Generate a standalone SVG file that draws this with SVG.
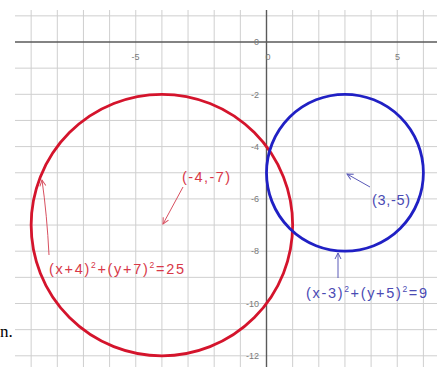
<svg xmlns="http://www.w3.org/2000/svg" width="437" height="367" viewBox="0 0 437 367">
<defs>
<style>
.grid line{stroke:#cfcfcf;stroke-width:1}
.axis{stroke:#5a5a5a;stroke-width:1.4}
.tick{font-family:"Liberation Sans",Arial,sans-serif;font-size:9px;fill:#7a7a7a}
.red{fill:none;stroke:#d4142c;stroke-width:2.8}
.blue{fill:none;stroke:#2020c4;stroke-width:2.8}
.rl{font-family:"Liberation Sans",Arial,sans-serif;font-size:14.5px;fill:#d83848}
.bl{font-family:"Liberation Sans",Arial,sans-serif;font-size:14.5px;fill:#4a4ab4}
.sup{font-size:8.5px}
.ra{stroke:#d85060;stroke-width:1;fill:none}
.ba{stroke:#5a5ab8;stroke-width:1;fill:none}
</style>
<marker id="mr" markerWidth="8" markerHeight="8" refX="7" refY="4" orient="auto" markerUnits="userSpaceOnUse">
<path d="M1,1 L7,4 L1,7" fill="none" stroke="#d85060" stroke-width="1"/>
</marker>
<marker id="mb" markerWidth="8" markerHeight="8" refX="7" refY="4" orient="auto" markerUnits="userSpaceOnUse">
<path d="M1,1 L7,4 L1,7" fill="none" stroke="#5a5ab8" stroke-width="1"/>
</marker>
</defs>
<rect width="437" height="367" fill="#ffffff"/>
<g id="grid" class="grid">
<line x1="31.15" y1="10" x2="31.15" y2="367"/>
<line x1="57.3" y1="10" x2="57.3" y2="367"/>
<line x1="83.45" y1="10" x2="83.45" y2="367"/>
<line x1="109.6" y1="10" x2="109.6" y2="367"/>
<line x1="135.75" y1="10" x2="135.75" y2="367"/>
<line x1="161.9" y1="10" x2="161.9" y2="367"/>
<line x1="188.05" y1="10" x2="188.05" y2="367"/>
<line x1="214.2" y1="10" x2="214.2" y2="367"/>
<line x1="240.35" y1="10" x2="240.35" y2="367"/>
<line x1="292.65" y1="10" x2="292.65" y2="367"/>
<line x1="318.8" y1="10" x2="318.8" y2="367"/>
<line x1="344.95" y1="10" x2="344.95" y2="367"/>
<line x1="371.1" y1="10" x2="371.1" y2="367"/>
<line x1="397.25" y1="10" x2="397.25" y2="367"/>
<line x1="423.4" y1="10" x2="423.4" y2="367"/>
<line x1="15" y1="15.85" x2="437" y2="15.85"/>
<line x1="15" y1="68.15" x2="437" y2="68.15"/>
<line x1="15" y1="94.3" x2="437" y2="94.3"/>
<line x1="15" y1="120.45" x2="437" y2="120.45"/>
<line x1="15" y1="146.6" x2="437" y2="146.6"/>
<line x1="15" y1="172.75" x2="437" y2="172.75"/>
<line x1="15" y1="198.9" x2="437" y2="198.9"/>
<line x1="15" y1="225.05" x2="437" y2="225.05"/>
<line x1="15" y1="251.2" x2="437" y2="251.2"/>
<line x1="15" y1="277.35" x2="437" y2="277.35"/>
<line x1="15" y1="303.5" x2="437" y2="303.5"/>
<line x1="15" y1="329.65" x2="437" y2="329.65"/>
<line x1="15" y1="355.8" x2="437" y2="355.8"/>
</g>
<g id="axes">
<line class="axis" x1="15" y1="42" x2="437" y2="42"/>
<line class="axis" x1="266.5" y1="10" x2="266.5" y2="367"/>
<text class="tick" x="135.5" y="60" text-anchor="middle">-5</text>
<text class="tick" x="397.5" y="60" text-anchor="middle">5</text>
<text class="tick" x="268" y="60" text-anchor="middle">0</text>
<text class="tick" x="259" y="45" text-anchor="end">0</text>
<text class="tick" x="259" y="97.5" text-anchor="end">-2</text>
<text class="tick" x="259" y="149.8" text-anchor="end">-4</text>
<text class="tick" x="259" y="202" text-anchor="end">-6</text>
<text class="tick" x="259" y="254.4" text-anchor="end">-8</text>
<text class="tick" x="259" y="306.7" text-anchor="end">-10</text>
<text class="tick" x="259" y="359" text-anchor="end">-12</text>
</g>
<g id="circle-red">
<circle class="red" cx="161.9" cy="225.05" r="130.75"/>
</g>
<g id="circle-blue">
<circle class="blue" cx="344.95" cy="172.75" r="78.45"/>
</g>
<g id="connectors">
<line class="ra" x1="183" y1="187" x2="163" y2="224" marker-end="url(#mr)"/>
<path class="ra" d="M49,255 Q47,215 42,180" marker-end="url(#mr)"/>
<line class="ba" x1="370" y1="187" x2="347" y2="174" marker-end="url(#mb)"/>
<line class="ba" x1="338" y1="278" x2="338" y2="253" marker-end="url(#mb)"/>
</g>
<g id="label-red-center">
<text class="rl" x="182" y="182" textLength="48" lengthAdjust="spacing">(-4,-7)</text>
</g>
<g id="label-red-eq">
<text class="rl" x="49" y="274" textLength="135" lengthAdjust="spacing">(x+4)<tspan class="sup" dy="-6">2</tspan><tspan dy="6">+(y+7)</tspan><tspan class="sup" dy="-6">2</tspan><tspan dy="6">=25</tspan></text>
</g>
<g id="label-blue-center">
<text class="bl" x="372" y="205" textLength="38" lengthAdjust="spacing">(3,-5)</text>
</g>
<g id="label-blue-eq">
<text class="bl" x="306" y="298" textLength="121" lengthAdjust="spacing">(x-3)<tspan class="sup" dy="-6">2</tspan><tspan dy="6">+(y+5)</tspan><tspan class="sup" dy="-6">2</tspan><tspan dy="6">=9</tspan></text>
</g>
<text x="0" y="337" font-family="Liberation Serif,Times New Roman,serif" font-size="17" fill="#000000">n.</text>
</svg>
